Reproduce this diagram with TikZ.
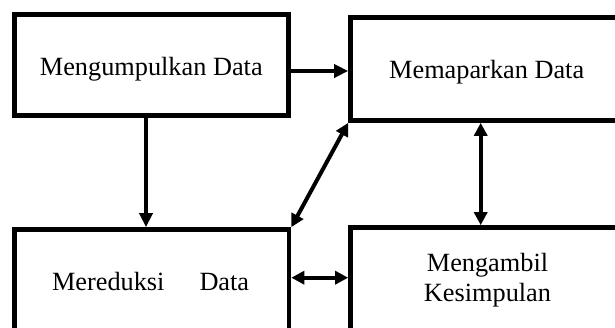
\documentclass[tikz,border=0pt]{standalone}
\usepackage{fontspec}
\setmainfont{Liberation Serif}
\usetikzlibrary{arrows.meta}
\begin{document}
\begin{tikzpicture}[x=1pt,y=-1pt,
  box/.style={draw=black,line width=4.7pt,minimum width=274pt,minimum height=101.5pt,inner sep=0pt},
  lbl/.style={inner sep=0pt,font=\fontsize{26.3}{30}\selectfont,align=center},
  conn/.style={line width=4pt,-{Triangle[length=14pt,width=13pt]}},
  dconn/.style={line width=4pt,{Triangle[length=13pt,width=13pt]}-{Triangle[length=13pt,width=13pt]}}]
\useasboundingbox (0,0) rectangle (615,327);
\clip (0,0) rectangle (615,327);
\node[box] (b1) at (151.3,65) {};
\node[box,minimum height=103pt] (b2) at (487.5,69) {};
\node[box,minimum width=274.7pt,minimum height=106pt] (b3) at (151.6,282.5) {};
\node[box,minimum height=106pt] (b4) at (487.5,280.5) {};
\node[lbl,anchor=base] (t1) at ([yshift=-10.7pt]b1.center) {Mengumpulkan Data};
\node[lbl,anchor=base] (t2) at ([xshift=-0.8pt,yshift=-9.4pt]b2.center) {Memaparkan Data};
\node[lbl,anchor=base] (t3) at ([xshift=-1pt,yshift=-7.5pt]b3.center) {Mereduksi\hspace{35pt}Data};
\node[lbl] (t4) at (b4.center) {Mengambil\\Kesimpulan};
\draw[conn] (b1.east |- 0,71) -- (b2.west |- 0,71);
\draw[conn] (b1.south -| 146,0) -- (b3.north -| 146,0);
\draw[dconn] (b3.north east) -- (b2.south west);
\draw[dconn] (b2.south -| 480.7,0) -- (b4.north -| 480.7,0);
\draw[dconn] (b3.east |- 0,277.7) -- (b4.west |- 0,277.7);
\end{tikzpicture}
\end{document}
